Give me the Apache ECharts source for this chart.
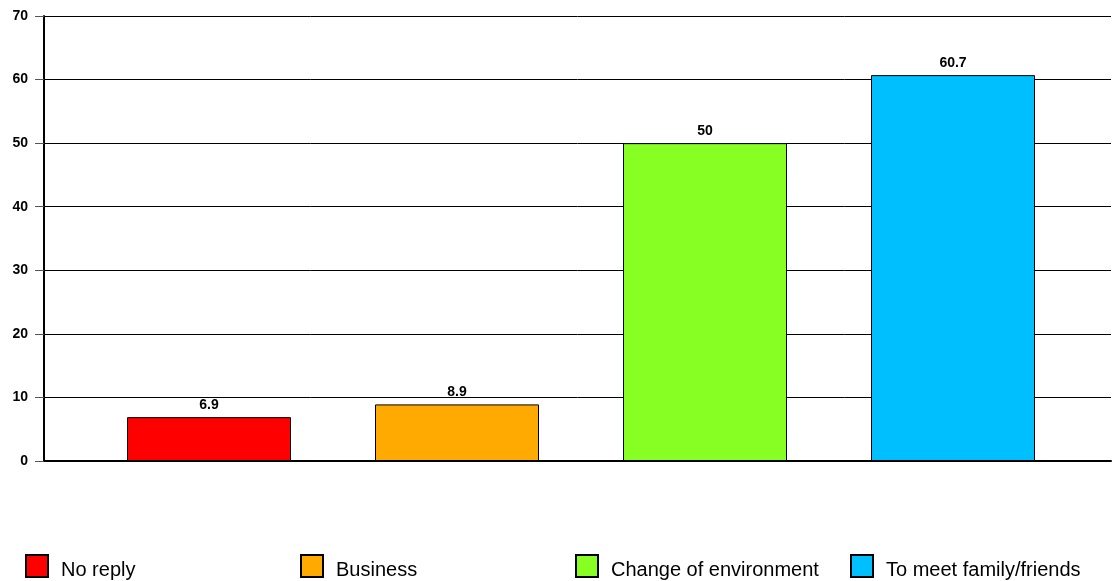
<!DOCTYPE html>
<html>
<head>
<meta charset="utf-8">
<script src="https://cdn.jsdelivr.net/npm/echarts@6/dist/echarts.min.js"></script>
<style>
  html, body { margin: 0; padding: 0; background: #fff; }
  #chart { width: 1113px; height: 581px; }
</style>
</head>
<body>
<div id="chart"></div>
<script>
// Reasons for travelling (%)
const categories = ['No reply', 'Business', 'Change of environment', 'To meet family/friends'];
const values = [6.9, 8.9, 50, 60.7];
const colors = ['#ff0000', '#ffaa00', '#88ff22', '#00bfff'];
const yTicks = [0, 10, 20, 30, 40, 50, 60, 70];
const legendLeft = [25, 300, 575, 850];

const FONT = '"Liberation Sans", Arial, sans-serif';
const chart = echarts.init(document.getElementById('chart'));

// one series per category, stacked so each bar sits at its category centre
const series = categories.map((name, i) => ({
  name: name,
  type: 'bar',
  xAxisIndex: 1,
  yAxisIndex: 1,
  stack: 'all',
  barWidth: 164,
  data: values.map((v, j) => (j === i ? v : '-')),
  itemStyle: { color: colors[i], borderColor: '#000', borderWidth: 1 },
  label: {
    show: true,
    position: 'top',
    distance: 5,
    fontFamily: FONT,
    fontWeight: 'bold',
    fontSize: 14,
    color: '#000'
  }
}));

// legend text sits slightly low, its baseline near the bottom of the swatch
const legends = categories.map((name, i) => ({
  data: [name],
  left: legendLeft[i],
  top: 554,
  padding: 0,
  icon: 'rect',
  itemWidth: 22,
  itemHeight: 22,
  selectedMode: false,
  formatter: '{t|{name}}',
  textStyle: {
    fontFamily: FONT,
    fontSize: 20,
    color: '#000',
    rich: {
      t: { fontFamily: FONT, fontSize: 20, color: '#000', padding: [8, 0, 0, 8] }
    }
  }
}));

chart.setOption({
  animation: false,
  backgroundColor: '#fff',
  grid: [
    { left: 44, right: 2, top: 16, bottom: 120 },
    { left: 85, right: 36, top: 16, bottom: 120 }
  ],
  legend: legends,
  xAxis: [
    {
      gridIndex: 0,
      type: 'category',
      data: categories,
      axisLine: { show: true, lineStyle: { color: '#000', width: 2 } },
      axisTick: { show: false },
      axisLabel: { show: false }
    },
    {
      gridIndex: 1,
      type: 'category',
      data: categories,
      show: false
    }
  ],
  yAxis: [
    {
      gridIndex: 0,
      type: 'value',
      min: yTicks[0],
      max: yTicks[yTicks.length - 1],
      interval: yTicks[1] - yTicks[0],
      axisLine: { show: true, lineStyle: { color: '#000', width: 2 } },
      axisTick: { show: true, length: 9, lineStyle: { color: '#555' } },
      splitLine: { show: true, lineStyle: { color: '#000', width: 1 } },
      axisLabel: {
        margin: 16,
        fontFamily: FONT,
        fontWeight: 'bold',
        fontSize: 14,
        color: '#000'
      }
    },
    {
      gridIndex: 1,
      type: 'value',
      min: yTicks[0],
      max: yTicks[yTicks.length - 1],
      show: false,
      splitLine: { show: false }
    }
  ],
  series: series
});
</script>
</body>
</html>
